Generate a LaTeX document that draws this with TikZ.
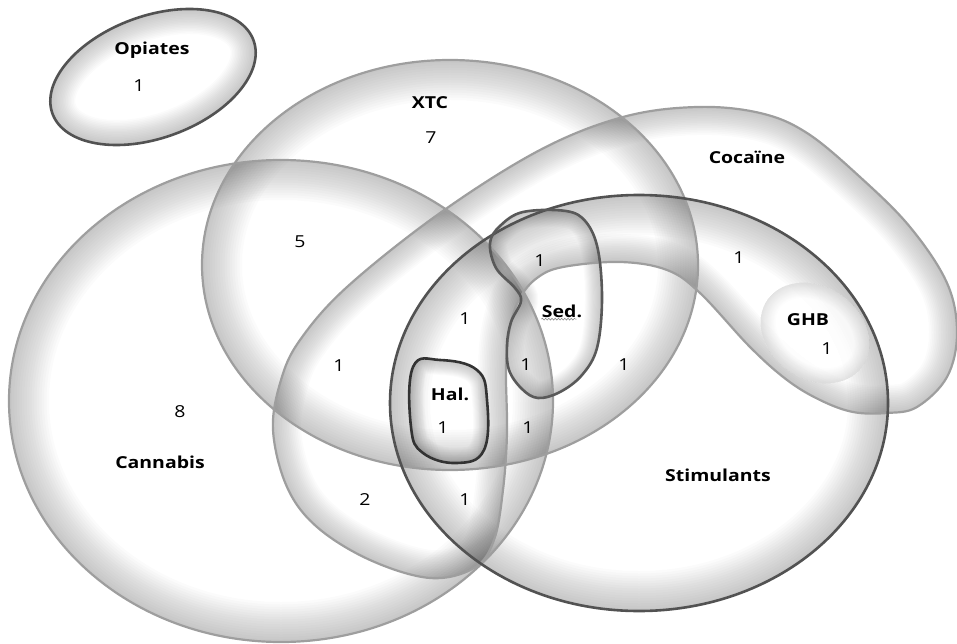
\documentclass[tikz,border=0pt]{standalone}
\usepackage{fontspec}
\setmainfont{Open Sans}[FakeStretch=1.18]
\usetikzlibrary{decorations.pathmorphing}

% outlines of the sets, in pixel units
\newcommand{\pathOpiates}{(153,77) ellipse [x radius=107, y radius=61, rotate=20]}
\newcommand{\pathXtc}{(450,265) ellipse [x radius=248, y radius=205]}
\newcommand{\pathCannabis}{(281,401) ellipse [x radius=272, y radius=241]}
\newcommand{\pathStim}{(639,403) ellipse [x radius=249, y radius=208]}
\newcommand{\pathGhb}{(815,333) ellipse [x radius=58, y radius=46, rotate=-35]}
\newcommand{\pathCoke}{plot[smooth cycle, tension=0.6] coordinates {
  (273,430) (281,380) (300,340) (347,287) (440,213) (540,150) (623,117)
  (697,107) (760,113) (807,133) (860,177) (910,227) (947,283) (957,333)
  (947,377) (917,407) (887,413) (853,412) (820,400) (787,380) (750,347)
  (700,293) (667,270) (620,262) (563,267) (537,278) (520,298) (510,327)
  (506,367) (507,433) (503,490) (494,540) (474,568) (430,578) (370,560)
  (317,527) (287,487)}}
\newcommand{\pathSed}{plot[smooth cycle, tension=0.6] coordinates {
  (490,243) (496,268) (515,288) (521,301) (511,322) (507,345) (509,370)
  (522,389) (538,398) (560,392) (582,375) (597,348) (602,300) (598,250)
  (586,222) (566,211) (523,212) (500,226)}}
\newcommand{\pathHal}{plot[smooth cycle, tension=0.7] coordinates {
  (413,367) (440,360) (477,370) (487,400) (484,450) (457,463) (423,453)
  (411,427)}}

% grey glow along the inside of a shape
\newcommand{\rim}[3]{%
  \begin{scope}
    \clip #1;
    \foreach \k in {1,...,16} {
      \draw[#2, opacity=0.017, line width=\k*#3/16] #1;
    }
  \end{scope}}

\tikzset{
  lbl/.style={font=\fontsize{16.5}{18}\selectfont\bfseries},
  num/.style={font=\fontsize{16.5}{18}\selectfont},
  light/.style={draw=black!38, line width=2.2},
  dark/.style={draw=black!68, line width=2.6}
}

\begin{document}
\begin{tikzpicture}[x=1pt, y=-1pt]
\useasboundingbox (0,0) rectangle (957,644);

% shading
\rim{\pathCannabis}{black}{80}
\rim{\pathXtc}{black}{80}
\rim{\pathCoke}{black}{56}
\rim{\pathStim}{black}{80}
\rim{\pathOpiates}{black}{50}
\rim{\pathSed}{black}{34}
\rim{\pathHal}{black}{30}
\fill[white, opacity=0.8] \pathGhb;
\rim{\pathGhb}{black!40}{30}

% outlines
\draw[light] \pathCannabis;
\draw[light] \pathXtc;
\draw[light] \pathCoke;
\draw[dark] \pathStim;
\draw[dark] \pathOpiates;
\draw[dark, draw=black!65] \pathSed;
\draw[dark, draw=black!80] \pathHal;

% labels
\node[lbl] (opiates) at (152,50) {Opiates};
\node[num] (nopi) at (139,86) {1};
\node[lbl] (xtc) at (430,103) {XTC};
\node[num] (nxtc) at (431,138) {7};
\node[lbl] (coke) at (747,157) {Cocaïne};
\node[num] (ncx) at (300,242) {5};
\node[num] (nsedtop) at (540,261) {1};
\node[num] (ncs) at (739,258) {1};
\node[lbl] (sed) at (562,311) {Sed.};
\draw[decorate, decoration={snake, amplitude=0.9, segment length=3.2}, black!45, line width=0.6]
  ([yshift=-2pt, xshift=3pt]sed.base west) -- ([yshift=-2pt, xshift=-9pt]sed.base east);
\node[num] (ncxs) at (465,319) {1};
\node[num] (ncxn) at (339,366) {1};
\node[num] (nsedl) at (526,365) {1};
\node[num] (nxs) at (624,365) {1};
\node[lbl] (ghb) at (808,320) {GHB};
\node[num] (nghb) at (827,349) {1};
\node[num] (ncan) at (180,412) {8};
\node[lbl] (cannabis) at (160,462) {Cannabis};
\node[lbl] (hal) at (450,394) {Hal.};
\node[num] (nhal) at (443,428) {1};
\node[num] (ncxsb) at (528,428) {1};
\node[lbl] (stim) at (718,475) {Stimulants};
\node[num] (ncc) at (365,500) {2};
\node[num] (nccs) at (465,500) {1};
\end{tikzpicture}
\end{document}
